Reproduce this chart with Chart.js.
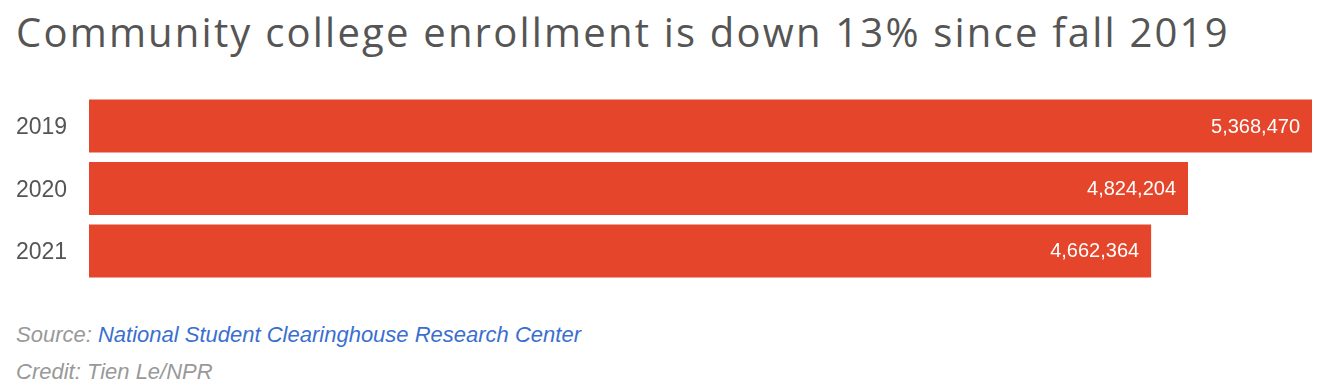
<!DOCTYPE html>
<html>
<head>
<meta charset="utf-8">
<script src="https://cdn.jsdelivr.net/npm/chart.js@4"></script>
<style>
  body { margin: 0; background: #fff; width: 1321px; height: 388px; overflow: hidden; position: relative; }
  .title { position: absolute; left: 16px; top: 4px; font-family: "Open Sans", sans-serif; font-size: 40px; letter-spacing: 2.2px; color: #555; white-space: nowrap; }
  .note { position: absolute; left: 16px; font-family: "Liberation Sans", Arial, sans-serif; font-style: italic; font-size: 22px; color: #999; white-space: nowrap; }
  .note a { color: #3a6fd0; text-decoration: none; }
  #wrap { position: absolute; left: 0; top: 81px; width: 1321px; height: 215px; }
</style>
</head>
<body>
<div class="title">Community college enrollment is down 13% since fall 2019</div>
<div id="wrap"><canvas id="chart"></canvas></div>
<div class="note" style="top:322px">Source: <a href="#">National Student Clearinghouse Research Center</a></div>
<div class="note" style="top:359px">Credit: Tien Le/NPR</div>
<script>
// Fall enrollment, community colleges
const years = ['2019', '2020', '2021'];
const enrollment = [5368470, 4824204, 4662364];

// Draw the number inside the right end of each bar
const valueLabels = {
    id: 'valueLabels',
    afterDatasetsDraw(chart) {
        const ctx = chart.ctx;
        const meta = chart.getDatasetMeta(0);
        ctx.save();
        ctx.fillStyle = '#fff';
        ctx.font = '20px "Liberation Sans", Arial, sans-serif';
        ctx.textAlign = 'right';
        ctx.textBaseline = 'middle';
        meta.data.forEach((bar, i) => {
            ctx.fillText(enrollment[i].toLocaleString('en-US'), bar.x - 12, bar.y + 1);
        });
        ctx.restore();
    }
};

new Chart(document.getElementById('chart'), {
    type: 'bar',
    data: {
        labels: years,
        datasets: [{
            data: enrollment,
            backgroundColor: '#e5462b',
            categoryPercentage: 0.85,
            barPercentage: 1
        }]
    },
    options: {
        indexAxis: 'y',
        responsive: true,
        maintainAspectRatio: false,
        animation: false,
        layout: { padding: { left: 16, right: 9, top: 0, bottom: 0 } },
        plugins: { legend: { display: false }, tooltip: { enabled: false } },
        scales: {
            x: { display: false, min: 0, max: 5368470 },
            y: {
                grid: { display: false },
                border: { display: false },
                ticks: {
                    crossAlign: 'far',
                    padding: 0,
                    labelOffset: 2,
                    color: '#555',
                    font: { family: '"Liberation Sans", Arial, sans-serif', size: 23 }
                },
                afterFit(scale) { scale.width = 73; }
            }
        }
    },
    plugins: [valueLabels]
});
</script>
</body>
</html>
